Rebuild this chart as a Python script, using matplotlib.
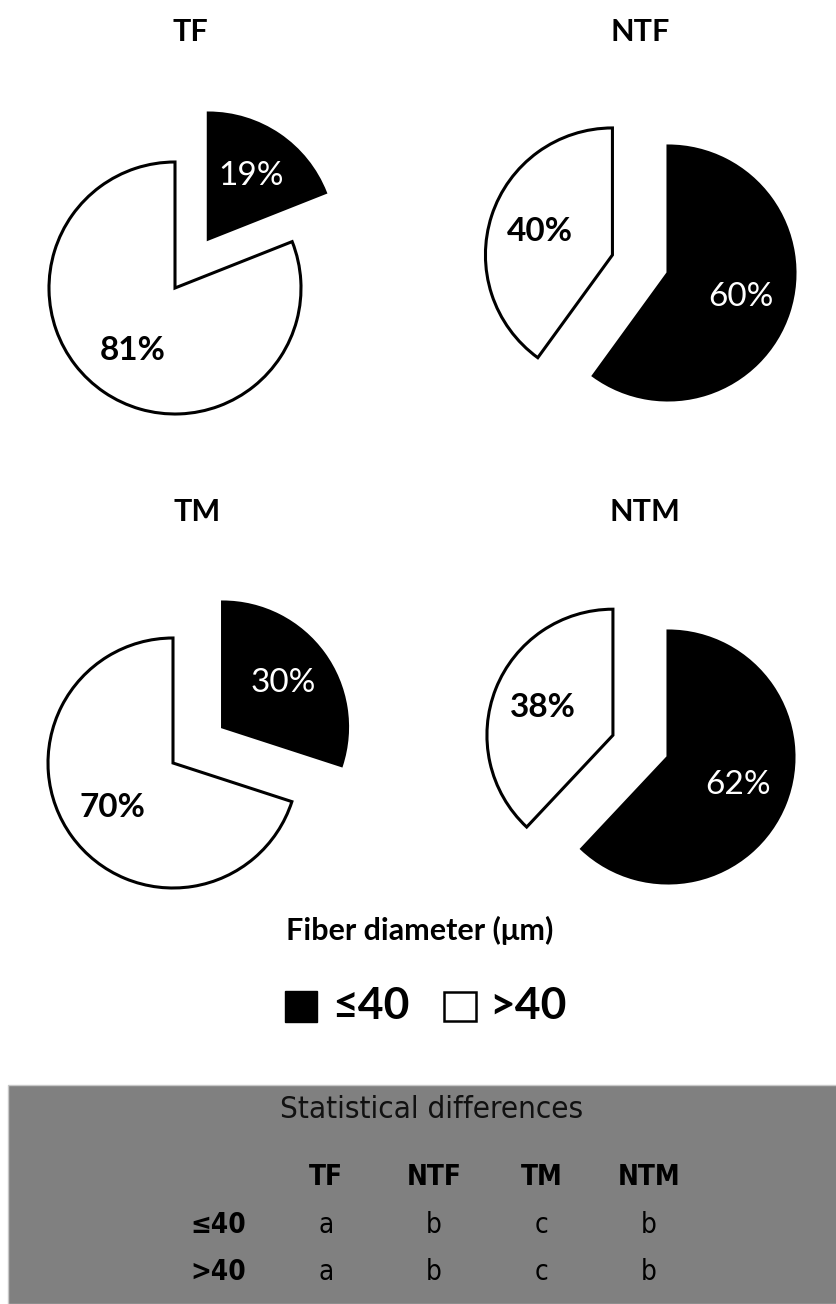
import matplotlib
matplotlib.use("Agg")
import matplotlib.pyplot as plt
from matplotlib.patches import Rectangle

# data
groups = ["TF", "NTF", "TM", "NTM"]
le40 = [19, 60, 30, 62]
gt40 = [81, 40, 70, 38]
classes = ["\u226440", ">40"]
legend_title = "Fiber diameter (\u03bcm)"
table_title = "Statistical differences"
letters_le40 = ["a", "b", "c", "b"]
letters_gt40 = ["a", "b", "c", "b"]

W, H = 837, 1304
fig = plt.figure(figsize=(W / 100, H / 100), dpi=100)

LABEL_FONT = ["Lato", "DejaVu Sans"]
NARROW_FONT = ["DejaVu Sans"]

# pie layout: centre x, centre y (px), radius (px), explode, title pos
layout = [
    (175, 288, 126, [0.47, 0.0], (190, 32)),
    (668, 273, 127, [0.0, 0.46], (640, 32)),
    (173, 763, 125, [0.49, 0.0], (197, 512)),
    (668, 757, 126, [0.0, 0.47], (645, 512)),
]

for i, g in enumerate(groups):
    cx, cy, r, expl, (tx, ty) = layout[i]
    half = 2.0
    ax = fig.add_axes([(cx - half * r) / W, 1 - (cy + half * r) / H,
                       2 * half * r / W, 2 * half * r / H])
    wedges, texts, autotexts = ax.pie(
        [le40[i], gt40[i]], colors=["black", "white"], explode=expl,
        startangle=90, counterclock=False, radius=1,
        autopct="%1.0f%%", pctdistance=0.6,
        wedgeprops=dict(edgecolor="black", linewidth=2.2))
    autotexts[0].set_color("white")
    autotexts[0].set_fontweight("normal")
    autotexts[1].set_color("black")
    autotexts[1].set_fontweight("bold")
    for t in autotexts:
        t.set_fontsize(24)
        t.set_family(LABEL_FONT)
    ax.set_xlim(-half, half)
    ax.set_ylim(-half, half)
    ax.set_aspect("equal")
    ax.axis("off")
    fig.text(tx / W, 1 - ty / H, g, ha="center", va="center",
             fontsize=22, fontweight="bold", family=LABEL_FONT)

# legend
fig.text(420 / W, 1 - 930 / H, legend_title, ha="center", va="center",
         fontsize=22, fontweight="bold", family=LABEL_FONT)
fig.patches.append(Rectangle((285 / W, 1 - 1022 / H), 32 / W, 31 / H,
                             transform=fig.transFigure, facecolor="black",
                             edgecolor="black"))
fig.text(332 / W, 1 - 1006 / H, classes[0], ha="left", va="center",
         fontsize=32, fontweight="bold", family=LABEL_FONT)
fig.patches.append(Rectangle((444 / W, 1 - 1021 / H), 32 / W, 29 / H,
                             transform=fig.transFigure, facecolor="white",
                             edgecolor="black", linewidth=1.8))
fig.text(489 / W, 1 - 1006 / H, classes[1], ha="left", va="center",
         fontsize=32, fontweight="bold", family=LABEL_FONT)

# statistics box
fig.patches.append(Rectangle((8 / W, 0), (W - 8) / W, (H - 1085) / H,
                             transform=fig.transFigure, facecolor="#808080",
                             edgecolor="#c8c8c8", linewidth=1))
fig.text(432 / W, 1 - 1110 / H, table_title, ha="center", va="center",
         fontsize=22.5, family=NARROW_FONT, fontstretch="condensed",
         color="#111111")
col_x = [326, 434, 542, 649]
for x, g in zip(col_x, groups):
    fig.text(x / W, 1 - 1177 / H, g, ha="center", va="center",
             fontsize=20, fontweight="bold", family=NARROW_FONT,
             fontstretch="condensed")
for y, lab, row in zip([1225, 1272], classes, [letters_le40, letters_gt40]):
    fig.text(246 / W, 1 - y / H, lab, ha="right", va="center",
             fontsize=20, fontweight="bold", family=NARROW_FONT,
             fontstretch="condensed")
    for x, v in zip(col_x, row):
        fig.text(x / W, 1 - y / H, v, ha="center", va="center",
                 fontsize=20, family=NARROW_FONT, fontstretch="condensed")

fig.savefig("out.png", dpi=100)
